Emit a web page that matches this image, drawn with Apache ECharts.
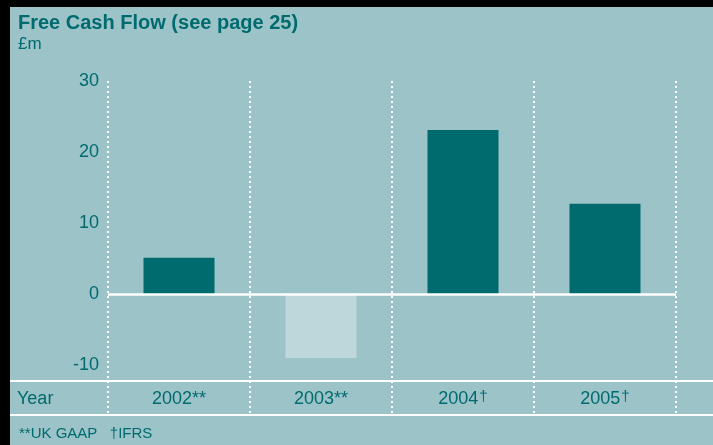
<!DOCTYPE html>
<html><head><meta charset="utf-8">
<script src="https://cdn.jsdelivr.net/npm/echarts@6/dist/echarts.min.js"></script>
<style>
html,body{margin:0;padding:0;background:#000;width:713px;height:445px;overflow:hidden}
#c{position:absolute;left:10px;top:7px;width:703px;height:438px;background:#9BC3C8}
</style></head>
<body><div id="c"></div>
<script>
const categories = ["2002**", "2003**", "2004†", "2005†"];
const freeCashFlow = [5.1, -9.0, 23.1, 12.7];
const yTicks = [-10, 0, 10, 20, 30];

const TEAL = '#006B6F';
const LIGHT = '#BED7DA';
const FONT = '"Liberation Sans", Arial, sans-serif';

const chart = echarts.init(document.getElementById('c'), null, {renderer: 'canvas'});
chart.setOption({
  backgroundColor: '#9BC3C8',
  animation: false,
  title: [
    {text: 'Free Cash Flow (see page 25)', left: 8, top: 6, padding: 0,
     textStyle: {color: TEAL, fontSize: 20, fontWeight: 'bold', fontFamily: FONT}},
    {text: '£m', left: 8, top: 29, padding: 0,
     textStyle: {color: TEAL, fontSize: 17, fontWeight: 'normal', fontFamily: FONT}},
    {text: 'Year', left: 7, top: 383, padding: 0,
     textStyle: {color: TEAL, fontSize: 18, fontWeight: 'normal', fontFamily: FONT}},
    {text: '**UK GAAP   †IFRS', left: 9, top: 419, padding: 0,
     textStyle: {color: TEAL, fontSize: 15, fontWeight: 'normal', fontFamily: FONT}}
  ],
  grid: {left: 98, right: 37, top: 74, bottom: 30, containLabel: false},
  xAxis: {
    type: 'category',
    data: categories,
    boundaryGap: true,
    axisLine: {show: false},
    axisTick: {show: false},
    splitLine: {show: true, lineStyle: {color: '#ffffff', width: 2, type: [2, 3]}},
    axisLabel: {
      margin: -30,
      color: TEAL,
      fontSize: 18,
      fontFamily: FONT,
      formatter: function (v) {
        if (v.endsWith('†')) return '{a|' + v.slice(0, -1) + '}{s|†}';
        return '{a|' + v + '}';
      },
      rich: {
        a: {fontSize: 18, lineHeight: 29, color: TEAL, fontFamily: FONT},
        s: {fontSize: 15, lineHeight: 24, color: TEAL, fontFamily: FONT, padding: [0, 0, 5, 1]}
      }
    }
  },
  yAxis: {
    type: 'value',
    min: -17.04,
    max: 30,
    axisLine: {show: false},
    axisTick: {show: false},
    splitLine: {show: false},
    axisLabel: {
      customValues: yTicks,
      margin: 9,
      color: TEAL,
      fontSize: 18,
      fontFamily: FONT
    }
  },
  graphic: [
    {type: 'line', shape: {x1: 0, y1: 374, x2: 703, y2: 374}, style: {stroke: '#ffffff', lineWidth: 2}, z: 10},
    {type: 'line', shape: {x1: 0, y1: 408, x2: 703, y2: 408}, style: {stroke: '#ffffff', lineWidth: 2}, z: 10}
  ],
  series: [{
    type: 'bar',
    data: freeCashFlow,
    barWidth: '50%',
    itemStyle: {color: function (p) { return p.value < 0 ? LIGHT : TEAL; }},
    markLine: {
      silent: true,
      symbol: 'none',
      label: {show: false},
      lineStyle: {color: '#ffffff', width: 2.5, type: 'solid'},
      data: [{yAxis: 0}],
      z: 5
    }
  }]
});
</script></body></html>
